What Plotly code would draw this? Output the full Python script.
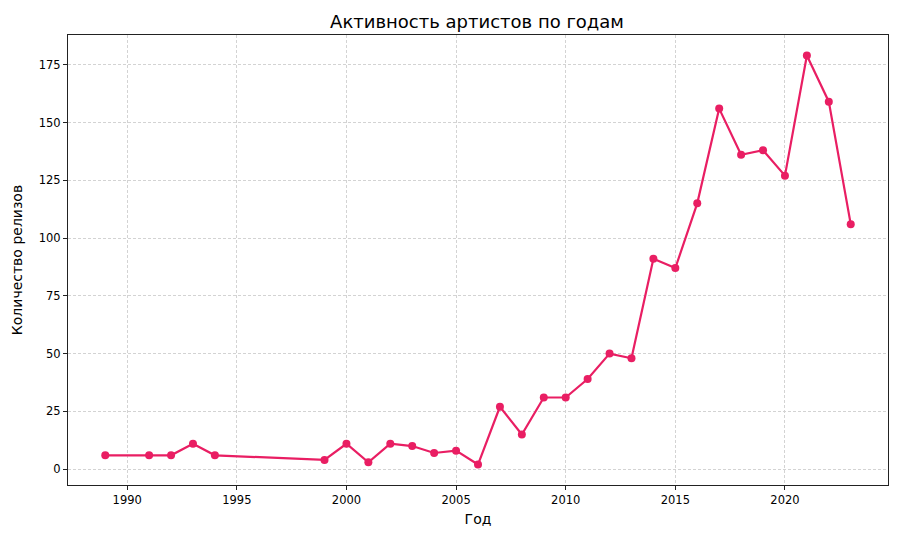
import plotly.graph_objects as go

years = [1989, 1991, 1992, 1993, 1994, 1999, 2000, 2001, 2002, 2003, 2004, 2005, 2006,
         2007, 2008, 2009, 2010, 2011, 2012, 2013, 2014, 2015, 2016, 2017, 2018, 2019,
         2020, 2021, 2022, 2023]
releases = [6, 6, 6, 11, 6, 4, 11, 3, 11, 10, 7, 8, 2,
            27, 15, 31, 31, 39, 50, 48, 91, 87, 115, 156, 136, 138,
            127, 179, 159, 106]

color = "#e91e63"
font = "DejaVu Sans"

fig = go.Figure()
fig.add_trace(go.Scatter(
    x=years, y=releases, mode="lines+markers",
    line=dict(color=color, width=2.2),
    marker=dict(color=color, size=8),
))

axis_common = dict(
    showline=True, linecolor="#222222", linewidth=1, mirror=True,
    ticks="outside", ticklen=4, tickcolor="#222222",
    showgrid=True, gridcolor="#d3d3d3", griddash="3px,2px", gridwidth=1,
    zeroline=False, tickfont=dict(family=font, size=11.5, color="black"),
)

fig.update_layout(
    width=900, height=541,
    paper_bgcolor="white", plot_bgcolor="white",
    margin=dict(l=68, r=12, t=35, b=56),
    showlegend=False,
    title=dict(text="Активность артистов по годам", x=0.53, xanchor="center",
               y=0.96, yanchor="middle",
               font=dict(family=font, size=18, color="black")),
    font=dict(family=font),
)
fig.update_xaxes(range=[1987.3, 2024.7], tickvals=[1990, 1995, 2000, 2005, 2010, 2015, 2020],
                 title=dict(text="Год", font=dict(family=font, size=14, color="black"), standoff=8),
                 **axis_common)
fig.update_yaxes(range=[-6.85, 187.85], tickvals=[0, 25, 50, 75, 100, 125, 150, 175],
                 title=dict(text="Количество релизов", font=dict(family=font, size=14, color="black"), standoff=12),
                 **axis_common)

fig.write_html("out.html")
